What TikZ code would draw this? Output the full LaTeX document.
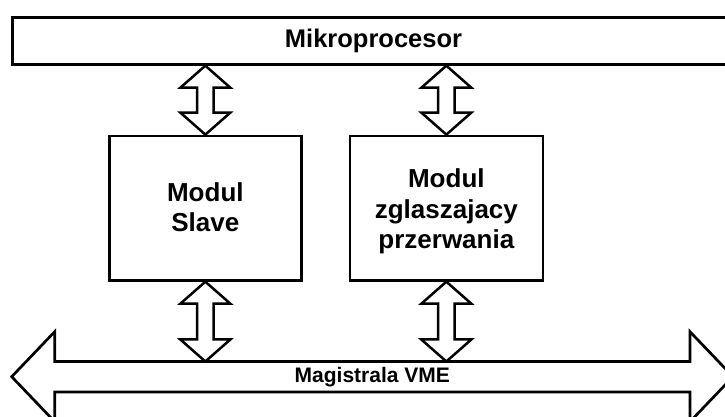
\documentclass[tikz,border=0pt]{standalone}
\usepackage{fontspec}
\setmainfont{Liberation Sans}
\usetikzlibrary{calc}
\begin{document}
\begin{tikzpicture}[x=1pt,y=1pt,
  frame/.style={draw, line width=2.7pt, line join=miter, inner sep=0pt},
  boxtext/.style={font=\bfseries\fontsize{26}{30.5}\selectfont, align=center},
  % hollow double-headed arrow between two vertically aligned points
  biarrow/.style={draw, line width=2.5pt, line join=miter,
    to path={let \p1=(\tikztostart), \p2=(\tikztotarget) in
      -- (\x1+25pt,\y1-22pt) -- (\x1+8.3pt,\y1-22pt) -- (\x1+8.3pt,\y2+22pt)
      -- (\x1+25pt,\y2+22pt) -- (\p2) -- (\x1-25pt,\y2+22pt)
      -- (\x1-8.3pt,\y2+22pt) -- (\x1-8.3pt,\y1-22pt) -- (\x1-25pt,\y1-22pt) -- cycle}},
  busline/.style={draw, line width=2.7pt, line join=miter}
]
\useasboundingbox (0,0) rectangle (725,417);
\clip (0,0) rectangle (725,417);

% processor bar across the top
\node[frame, minimum width=721.7pt, minimum height=47pt, anchor=south west,
      font=\bfseries\fontsize{25.5}{28}\selectfont] (cpu) at (11.3,351.3) {Mikroprocesor};

% the two modules
\node[frame, minimum width=192pt, minimum height=144.4pt, anchor=south west] (slave) at (108,135.3) {};
\node[frame, minimum width=193pt, minimum height=144.4pt, anchor=south west] (irq) at (348.5,135.3) {};
\node[boxtext] (slavetext) at ([yshift=0.75pt]slave.center) {Modul\\Slave};
\node[boxtext] (irqtext) at ([yshift=-3.5pt]irq.center) {Modul\\zglaszajacy\\przerwania};

% VME bus as a wide double arrow
\coordinate (busL) at (11.7,40.3);
\coordinate (busR) at (733,40.3);
\coordinate (busN) at (372.3,55.5);
\draw[busline] let \p1=(busL), \p2=(busR) in
  (\p1) -- (\x1+43pt,\y1+45pt) -- (\x1+43pt,\y1+15.25pt) -- (\x2-43pt,\y1+15.25pt)
  -- (\x2-43pt,\y1+45pt) -- (\p2) -- (\x2-43pt,\y1-45pt) -- (\x2-43pt,\y1-15.25pt)
  -- (\x1+43pt,\y1-15.25pt) -- (\x1+43pt,\y1-45pt) -- cycle;
\node[font=\bfseries\fontsize{21}{24}\selectfont, anchor=base] (buslabel) at (372.3,34.3) {Magistrala VME};

% data paths
\draw[biarrow] (slave.north |- cpu.south) to (slave.north);
\draw[biarrow] (irq.north |- cpu.south) to (irq.north);
\draw[biarrow] (slave.south) to (slave.south |- busN);
\draw[biarrow] (irq.south) to (irq.south |- busN);
\end{tikzpicture}
\end{document}
